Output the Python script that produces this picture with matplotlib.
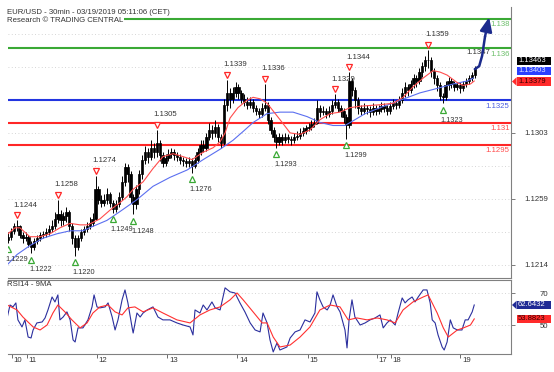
import matplotlib
matplotlib.use('Agg')
import matplotlib.pyplot as plt
from matplotlib.patches import Rectangle, Polygon
from matplotlib.transforms import offset_copy
import numpy as np

plt.rcParams['font.family'] = ['Liberation Sans', 'DejaVu Sans']

# hourly bars, x = hours since first bar
first_open = 1.1231
closes = [
    1.1233, 1.1237, 1.1240, 1.1240, 1.1234, 1.1232, 1.1233, 1.1228, 1.1226, 1.1230,
    1.1232, 1.1234, 1.1235, 1.1236, 1.1238, 1.1240, 1.1245, 1.1248, 1.1244, 1.1247,
    1.1250, 1.1240, 1.1232, 1.1226, 1.1232, 1.1236, 1.1238, 1.1240, 1.1242, 1.1245,
    1.1265, 1.1258, 1.1256, 1.1258, 1.1262, 1.1256, 1.1252, 1.1255, 1.1260, 1.1270,
    1.1280, 1.1275, 1.1260, 1.1255, 1.1265, 1.1275, 1.1285, 1.1290, 1.1287, 1.1293,
    1.1290, 1.1296, 1.1288, 1.1283, 1.1286, 1.1289, 1.1290, 1.1288, 1.1287, 1.1285,
    1.1284, 1.1283, 1.1284, 1.1281, 1.1285, 1.1290, 1.1295, 1.1293, 1.1300, 1.1305,
    1.1303, 1.1307, 1.1300, 1.1296, 1.1322, 1.1330, 1.1326, 1.1330, 1.1334, 1.1330,
    1.1326, 1.1324, 1.1322, 1.1324, 1.1320, 1.1318, 1.1316, 1.1320, 1.1322, 1.1312,
    1.1305, 1.1300, 1.1297, 1.1300, 1.1298, 1.1300, 1.1299, 1.1298, 1.1300, 1.1301,
    1.1303, 1.1304, 1.1306, 1.1307, 1.1309, 1.1310, 1.1320, 1.1317, 1.1318, 1.1316,
    1.1318, 1.1322, 1.1324, 1.1320, 1.1318, 1.1314, 1.1308, 1.1338, 1.1332, 1.1325,
    1.1320, 1.1318, 1.1320, 1.1319, 1.1317, 1.1320, 1.1318, 1.1319, 1.1321, 1.1320,
    1.1318, 1.1321, 1.1323, 1.1322, 1.1325, 1.1330, 1.1334, 1.1332, 1.1336, 1.1340,
    1.1338, 1.1344, 1.1348, 1.1352, 1.1352, 1.1345, 1.1340, 1.1335, 1.1328, 1.1327,
    1.1335, 1.1338, 1.1336, 1.1334, 1.1335, 1.1333, 1.1336, 1.1338, 1.1340, 1.1342, 1.1346,
]
highs = [
    1.1236, 1.1239, 1.1242, 1.1244, 1.1241, 1.1236, 1.1236, 1.1234, 1.1230, 1.1232,
    1.1234, 1.1236, 1.1237, 1.1239, 1.1241, 1.1244, 1.1250, 1.1258, 1.1251, 1.1250,
    1.1253, 1.1251, 1.1242, 1.1234, 1.1234, 1.1238, 1.1240, 1.1243, 1.1246, 1.1249,
    1.1274, 1.1267, 1.1261, 1.1262, 1.1266, 1.1263, 1.1258, 1.1258, 1.1263, 1.1274,
    1.1283, 1.1282, 1.1277, 1.1262, 1.1268, 1.1278, 1.1288, 1.1294, 1.1293, 1.1298,
    1.1296, 1.1305, 1.1298, 1.1290, 1.1289, 1.1292, 1.1293, 1.1292, 1.1290, 1.1289,
    1.1287, 1.1286, 1.1287, 1.1286, 1.1288, 1.1293, 1.1298, 1.1298, 1.1303, 1.1310,
    1.1308, 1.1312, 1.1309, 1.1302, 1.1326, 1.1339, 1.1333, 1.1334, 1.1337, 1.1336,
    1.1332, 1.1329, 1.1327, 1.1327, 1.1326, 1.1322, 1.1320, 1.1323, 1.1336, 1.1324,
    1.1314, 1.1307, 1.1302, 1.1303, 1.1302, 1.1303, 1.1302, 1.1301, 1.1303, 1.1304,
    1.1306, 1.1307, 1.1308, 1.1310, 1.1312, 1.1313, 1.1325, 1.1322, 1.1321, 1.1320,
    1.1321, 1.1325, 1.1329, 1.1326, 1.1322, 1.1320, 1.1316, 1.1344, 1.1340, 1.1334,
    1.1327, 1.1322, 1.1323, 1.1322, 1.1321, 1.1323, 1.1322, 1.1322, 1.1324, 1.1323,
    1.1322, 1.1324, 1.1326, 1.1325, 1.1328, 1.1333, 1.1337, 1.1336, 1.1339, 1.1343,
    1.1342, 1.1347, 1.1351, 1.1355, 1.1359, 1.1354, 1.1347, 1.1342, 1.1337, 1.1330,
    1.1338, 1.1341, 1.1340, 1.1338, 1.1337, 1.1337, 1.1338, 1.1340, 1.1342, 1.1344, 1.1348,
]
lows = [
    1.1229, 1.1231, 1.1235, 1.1237, 1.1232, 1.1229, 1.1230, 1.1226, 1.1222, 1.1224,
    1.1228, 1.1230, 1.1232, 1.1233, 1.1234, 1.1236, 1.1238, 1.1242, 1.1240, 1.1241,
    1.1243, 1.1237, 1.1228, 1.1220, 1.1224, 1.1230, 1.1234, 1.1236, 1.1238, 1.1240,
    1.1244, 1.1255, 1.1253, 1.1254, 1.1255, 1.1253, 1.1249, 1.1250, 1.1253, 1.1258,
    1.1267, 1.1270, 1.1256, 1.1248, 1.1252, 1.1262, 1.1272, 1.1282, 1.1283, 1.1285,
    1.1286, 1.1287, 1.1284, 1.1280, 1.1281, 1.1284, 1.1286, 1.1285, 1.1284, 1.1282,
    1.1281, 1.1280, 1.1280, 1.1276, 1.1279, 1.1283, 1.1288, 1.1290, 1.1291, 1.1298,
    1.1299, 1.1300, 1.1297, 1.1293, 1.1295, 1.1318, 1.1320, 1.1323, 1.1327, 1.1326,
    1.1323, 1.1321, 1.1319, 1.1320, 1.1317, 1.1315, 1.1313, 1.1314, 1.1318, 1.1309,
    1.1302, 1.1297, 1.1293, 1.1295, 1.1295, 1.1296, 1.1296, 1.1295, 1.1296, 1.1298,
    1.1299, 1.1301, 1.1302, 1.1304, 1.1305, 1.1307, 1.1309, 1.1314, 1.1315, 1.1313,
    1.1314, 1.1316, 1.1320, 1.1317, 1.1314, 1.1310, 1.1299, 1.1306, 1.1328, 1.1320,
    1.1316, 1.1315, 1.1316, 1.1316, 1.1314, 1.1315, 1.1315, 1.1316, 1.1317, 1.1317,
    1.1315, 1.1316, 1.1319, 1.1319, 1.1320, 1.1323, 1.1327, 1.1328, 1.1330, 1.1333,
    1.1334, 1.1336, 1.1341, 1.1345, 1.1347, 1.1341, 1.1336, 1.1331, 1.1325, 1.1323,
    1.1325, 1.1332, 1.1333, 1.1331, 1.1332, 1.1330, 1.1331, 1.1334, 1.1336, 1.1338, 1.1340,
]

# moving averages on price (red = fast, blue = slow)
ma_fast_t = [0, 2.4, 4.1, 7.5, 11.0, 14.4, 17.8, 21.3, 24.7, 27.4,
             31.5, 35.0, 38.4, 40.8, 42.9, 46.3, 49.7, 53.1, 56.6, 60.0,
             63.1, 66.9, 70.3, 72.7, 74.4, 76.1, 78.8, 81.9, 84.0, 86.4,
             88.8, 90.8, 93.2, 96.7, 100.1, 103.5, 107.0, 110.4, 113.8, 117.2,
             120.7, 127.5, 132.0, 135.4, 138.8, 142.3, 145.7, 148.1, 150.5, 153.9,
             156.0, 158.5, 159.8]
ma_fast = [1.1235, 1.1239, 1.1239, 1.1233, 1.1233, 1.1235, 1.1239, 1.1242, 1.1241, 1.1241,
           1.1245, 1.1251, 1.1256, 1.1260, 1.1265, 1.1270, 1.1279, 1.1287, 1.1289, 1.1287,
           1.1285, 1.1290, 1.1293, 1.1297, 1.1303, 1.1313, 1.1320, 1.1325, 1.1327, 1.1326,
           1.1323, 1.1318, 1.1312, 1.1303, 1.1302, 1.1305, 1.1312, 1.1316, 1.1317, 1.1320,
           1.1321, 1.1322, 1.1323, 1.1327, 1.1334, 1.1340, 1.1345, 1.1344, 1.1342, 1.1337,
           1.1335, 1.1336, 1.1338]
ma_slow_t = [-0.3, 3.1, 7.5, 12.0, 16.8, 21.3, 25.7, 29.1, 33.9, 38.4,
             44.2, 49.7, 55.5, 61.4, 66.9, 72.7, 77.1, 80.6, 84.0, 88.8,
             93.2, 97.7, 102.5, 107.0, 111.4, 115.5, 119.0, 122.4, 127.5, 134.4,
             141.2, 147.1, 152.6, 157.4, 159.5]
ma_slow = [1.1214, 1.1221, 1.1227, 1.1232, 1.1235, 1.1237, 1.1237, 1.1240, 1.1244, 1.1250,
           1.1258, 1.1267, 1.1273, 1.1278, 1.1285, 1.1292, 1.1298, 1.1304, 1.1310, 1.1316,
           1.1317, 1.1317, 1.1314, 1.1310, 1.1308, 1.1308, 1.1312, 1.1316, 1.1320, 1.1325,
           1.1330, 1.1333, 1.1336, 1.1338, 1.1340]

# RSI(14) and its 9MA
rsi_t = [-0.3, 0.7, 1.7, 2.7, 3.4, 4.8, 5.8, 6.9, 7.9, 8.6,
         9.9, 11.7, 12.7, 13.7, 15.1, 16.1, 17.1, 17.8, 18.9, 20.2,
         21.3, 22.3, 23.0, 24.0, 25.7, 27.4, 28.8, 29.5, 30.5, 31.5,
         33.3, 34.3, 35.7, 36.7, 37.7, 39.1, 40.1, 41.1, 42.5, 42.9,
         44.2, 45.3, 46.3, 47.7, 49.7, 51.4, 53.1, 55.5, 57.9, 60.0,
         62.4, 63.4, 64.1, 65.8, 66.9, 68.2, 69.9, 71.0, 72.7, 74.4,
         76.1, 77.8, 79.5, 81.2, 83.0, 84.7, 86.4, 87.4, 88.8, 89.8,
         90.9, 92.2, 93.2, 95.6, 96.7, 98.4, 100.1, 101.8, 103.5, 105.2,
         105.9, 106.9, 108.0, 109.4, 110.4, 111.4, 112.8, 113.8, 115.5, 116.2,
         116.9, 117.9, 118.9, 120.7, 122.4, 124.1, 125.8, 127.5, 128.6, 129.9,
         131.0, 132.7, 133.7, 135.1, 136.1, 137.1, 138.5, 139.5, 140.6, 142.3,
         143.6, 144.7, 145.4, 146.4, 147.4, 148.8, 149.5, 150.5, 151.6, 152.6,
         154.0, 155.6, 156.7, 157.7, 159.1, 159.8]
rsi = [54.5, 62.6, 61.4, 63.9, 53.3, 48.9, 53.3, 42.6, 42.0, 47.0,
       51.4, 52.0, 54.5, 59.5, 67.6, 64.5, 68.9, 53.3, 55.1, 58.3,
       53.3, 40.8, 39.5, 48.3, 48.3, 53.3, 61.4, 68.9, 61.4, 60.8,
       61.4, 63.9, 55.1, 47.0, 53.3, 65.8, 72.0, 63.9, 48.9, 45.1,
       57.6, 55.1, 57.6, 59.5, 61.4, 55.1, 53.3, 53.3, 51.4, 50.1,
       48.9, 43.9, 59.5, 57.6, 62.6, 59.5, 64.5, 60.8, 59.5, 73.3,
       70.8, 70.1, 63.9, 58.3, 51.4, 47.0, 45.8, 57.6, 51.4, 40.8,
       33.3, 38.9, 34.5, 36.4, 42.0, 45.8, 47.0, 53.3, 52.0, 57.6,
       70.8, 65.8, 61.4, 59.5, 62.6, 68.9, 61.4, 58.3, 47.0, 35.8,
       53.3, 65.8, 55.1, 50.1, 51.4, 53.3, 54.5, 56.4, 48.3, 51.4,
       53.3, 50.1, 57.6, 67.0, 63.9, 65.8, 67.6, 64.5, 67.6, 72.0,
       72.0, 63.9, 53.3, 51.4, 43.9, 36.4, 34.5, 39.5, 53.3, 48.3,
       47.0, 47.0, 53.3, 53.3, 58.3, 62.6]
rsi_ma_t = [-0.3, 3.1, 5.1, 8.6, 11.0, 13.4, 15.4, 17.1, 19.5, 21.9,
            24.7, 27.1, 29.1, 31.5, 34.3, 36.7, 39.1, 41.1, 43.5, 46.3,
            49.7, 53.1, 57.9, 62.4, 65.8, 69.2, 72.7, 76.1, 78.5, 80.6,
            84.0, 87.1, 88.8, 90.9, 93.2, 96.7, 100.1, 103.5, 106.9, 110.4,
            113.8, 116.6, 119.6, 123.1, 126.5, 129.9, 132.7, 135.4, 138.8, 142.3,
            144.0, 147.1, 149.2, 150.9, 154.0, 156.1, 158.5, 159.8]
rsi_ma = [62.6, 59.5, 55.1, 48.9, 47.0, 50.1, 57.6, 62.6, 58.3, 53.3,
          48.3, 51.4, 57.6, 61.4, 62.6, 58.3, 56.4, 60.8, 61.4, 58.3,
          60.8, 57.6, 53.3, 51.4, 56.4, 59.5, 61.4, 65.8, 70.1, 65.8,
          58.3, 51.4, 51.4, 42.6, 36.4, 37.6, 42.6, 48.9, 59.5, 62.6,
          61.4, 53.3, 54.5, 53.3, 54.5, 53.3, 51.4, 59.5, 64.5, 67.6,
          68.9, 57.6, 48.3, 42.6, 47.0, 48.3, 50.1, 53.9]

# swing points (bar index)
swing_high_bars = [3, 17, 30, 51, 75, 88, 112, 117, 144]
swing_low_bars = [0, 8, 23, 36, 43, 63, 92, 116, 149]

# key levels
levels = [1.138, 1.136, 1.1325, 1.131, 1.1295]
level_labels = ['1.138', '1.136', '1.1325', '1.131', '1.1295']

# projected path
proj_t = [160, 161.5, 162.5, 163.5, 164.9]
proj_p = [1.1346, 1.1348, 1.1355, 1.1368, 1.1381]

# day separators (bar index) and labels
day_ticks = [1.3, 6.4, 30.4, 54.6, 78.6, 102.7, 126.4, 131.3, 155.0]
day_labels = ['10', '11', '12', '13', '14', '15', '17', '18', '19']

price_grid = [1.1214, 1.12363, 1.12585, 1.12808, 1.1303, 1.13253, 1.13475, 1.13698]
price_ticks = [1.1214, 1.12585, 1.1303]
price_tick_labels = ['1.1214', '1.1259', '1.1303']

# ---------------------------------------------------------------
W, H = 554, 372
fig = plt.figure(figsize=(W / 100, H / 100), dpi=100)
fig.patch.set_facecolor('white')


def fx(x):
    return x / W


def fy(y):
    return 1 - y / H


FS = 5.6
TXT = '#333333'
FRAME = '#808080'
GREEN = '#3aa935'
BLUE = '#2235e0'
RED = '#ff2626'
NAVY = '#1b2a8c'

ax = fig.add_axes([fx(7.5), fy(277.5), fx(511) - fx(7.5), fy(7) - fy(277.5)])
ax2 = fig.add_axes([fx(7.5), fy(354), fx(511) - fx(7.5), fy(280) - fy(354)])

for a in (ax, ax2):
    a.set_xlim(-0.17, 172.4)
    a.set_facecolor('white')
    a.spines['left'].set_visible(False)
    for s in ('right', 'bottom', 'top'):
        a.spines[s].set_color(FRAME)
        a.spines[s].set_linewidth(0.8)
    a.yaxis.tick_right()
ax.spines['top'].set_visible(False)

ax.set_ylim(1.12055, 1.13879)
ax2.set_ylim(32.0, 78.2)

# price grid
for g in price_grid:
    ax.axhline(g, color='#c8c8c8', lw=0.6, ls=(0, (1, 3)), zorder=0)
ax.set_yticks(price_ticks, labels=price_tick_labels)
ax.tick_params(axis='x', bottom=False, labelbottom=False)
ax.tick_params(axis='y', length=3, width=0.6, color='#666666', pad=23.6,
               labelsize=FS, labelcolor=TXT)
for lab in ax.get_yticklabels():
    lab.set_ha('right')

# levels
lvl_colors = [GREEN, GREEN, BLUE, RED, RED]
lvl_text_colors = ['#6cbf6a', '#6cbf6a', '#4a5ee0', '#ff4a4a', '#ff4a4a']
for lv, lab, c, tc in zip(levels, level_labels, lvl_colors, lvl_text_colors):
    ax.axhline(lv, color=c, lw=1.5, zorder=2)
    ax.annotate(lab, xy=(0.997, lv), xycoords=('axes fraction', 'data'),
                xytext=(0, -4.3), textcoords='offset points', ha='right',
                va='center', fontsize=FS, color=tc, zorder=6)

# candles
c = np.array(closes)
hi = np.array(highs)
lo = np.array(lows)
o = np.concatenate([[first_open], c[:-1]])
t = np.arange(len(c))
ax.vlines(t, lo, hi, color='black', lw=0.7, zorder=3)
ax.bar(t, np.abs(c - o), bottom=np.minimum(o, c), width=0.8,
       facecolor='black', edgecolor='black', lw=0.5, zorder=4)

# moving averages
ax.plot(ma_slow_t, ma_slow, color='#5b6ff0', lw=0.8, zorder=5)
ax.plot(ma_fast_t, ma_fast, color='#ff4d4d', lw=0.8, zorder=5)

# swing markers
hb = np.array(swing_high_bars)
lb = np.array(swing_low_bars)
ax.plot(hb, hi[hb], 'v', ms=5, mfc='white', mec=RED, mew=0.9, zorder=6,
        transform=offset_copy(ax.transData, fig=fig, x=0, y=5, units='dots'))
ax.plot(lb, lo[lb], '^', ms=5, mfc='white', mec=GREEN, mew=0.9, zorder=6,
        transform=offset_copy(ax.transData, fig=fig, x=0, y=-6.5, units='dots'))
for b in hb:
    ax.annotate(f'{hi[b]:.4f}', xy=(b, hi[b]), xytext=(-2.2, 10.8),
                textcoords='offset points', ha='left', va='center',
                fontsize=FS, color=TXT, zorder=6)
for b in lb:
    ax.annotate(f'{lo[b]:.4f}', xy=(b, lo[b]), xytext=(-1.6, -12.2),
                textcoords='offset points', ha='left', va='center',
                fontsize=5.3, color=TXT, zorder=6)

# projection arrow
ax.plot(proj_t[:-1], proj_p[:-1], color=NAVY, lw=1.8, zorder=7,
        solid_capstyle='round', solid_joinstyle='round')
ax.annotate('', xy=(proj_t[-1], proj_p[-1]), xytext=(proj_t[-2], proj_p[-2]),
            arrowprops=dict(arrowstyle='-|>,head_length=0.7,head_width=0.3',
                            mutation_scale=12, color=NAVY, lw=1.8,
                            shrinkA=0, shrinkB=0), zorder=7)
ax.annotate('1.1347', xy=(t[-1], 1.1347), xytext=(11, 11),
            textcoords='offset points', ha='right', va='center',
            fontsize=FS, color=TXT, zorder=6)

# RSI panel
for g in (50, 70):
    ax2.axhline(g, color='#c8c8c8', lw=0.6, ls=(0, (1, 3)), zorder=0)
ax2.plot(rsi_t, rsi, color='#2b2f9e', lw=0.8, zorder=3)
ax2.plot(rsi_ma_t, rsi_ma, color='#ff3030', lw=0.8, zorder=4)
ax2.set_yticks([50, 70], labels=['50', '70'])
ax2.tick_params(axis='y', length=3, width=0.6, color='#666666', pad=23.6,
                labelsize=FS, labelcolor=TXT)
for lab in ax2.get_yticklabels():
    lab.set_ha('right')
ax2.set_xticks(day_ticks)
ax2.set_xticklabels([])
ax2.tick_params(axis='x', length=3, width=0.6, color='#555555', direction='out')
for d, lab in zip(day_ticks, day_labels):
    ax2.annotate(lab, xy=(d, 0), xycoords=('data', 'axes fraction'),
                 xytext=(1.2, -4.4), textcoords='offset points', ha='left',
                 va='center', fontsize=FS, color=TXT)

# titles
fig.text(fx(7), fy(12), 'EUR/USD - 30min - 03/19/2019 05:11:06 (CET)',
         fontsize=FS, color=TXT, va='center', ha='left')
fig.text(fx(7), fy(21), 'Research \u00a9 TRADING CENTRAL', fontsize=FS,
         color=TXT, va='center', ha='left',
         bbox=dict(facecolor='white', edgecolor='none', pad=0.6))
fig.text(fx(7), fy(285), 'RSI14 - 9MA', fontsize=FS, color=TXT,
         va='center', ha='left')


# value boxes on the right
def value_box(text, yc, face, fg, pointer=False):
    fig.add_artist(Rectangle((fx(516.5), fy(yc + 4.3)), fx(551) - fx(516.5),
                             fy(yc - 4.3) - fy(yc + 4.3), transform=fig.transFigure,
                             facecolor=face, edgecolor='none', zorder=8))
    if pointer:
        fig.add_artist(Polygon([(fx(512), fy(yc)), (fx(516.6), fy(yc + 4.3)),
                                (fx(516.6), fy(yc - 4.3))], closed=True,
                               transform=fig.transFigure, facecolor=face,
                               edgecolor='none', zorder=8))
    fig.text(fx(518), fy(yc), text, fontsize=5.5, color=fg, va='center',
             ha='left', zorder=9)


value_box('1.13463', 61, 'black', 'white')
value_box('1.13403', 71, '#2a40ff', '#dfe6ff')
value_box('1.13379', 81.5, '#ff2a2a', '#3a0000', pointer=True)
value_box('62.6432', 305, '#1f2a95', 'white', pointer=True)
value_box('53.8823', 319, '#ff2a2a', '#3a0000')

fig.savefig('out.png', dpi=100)
